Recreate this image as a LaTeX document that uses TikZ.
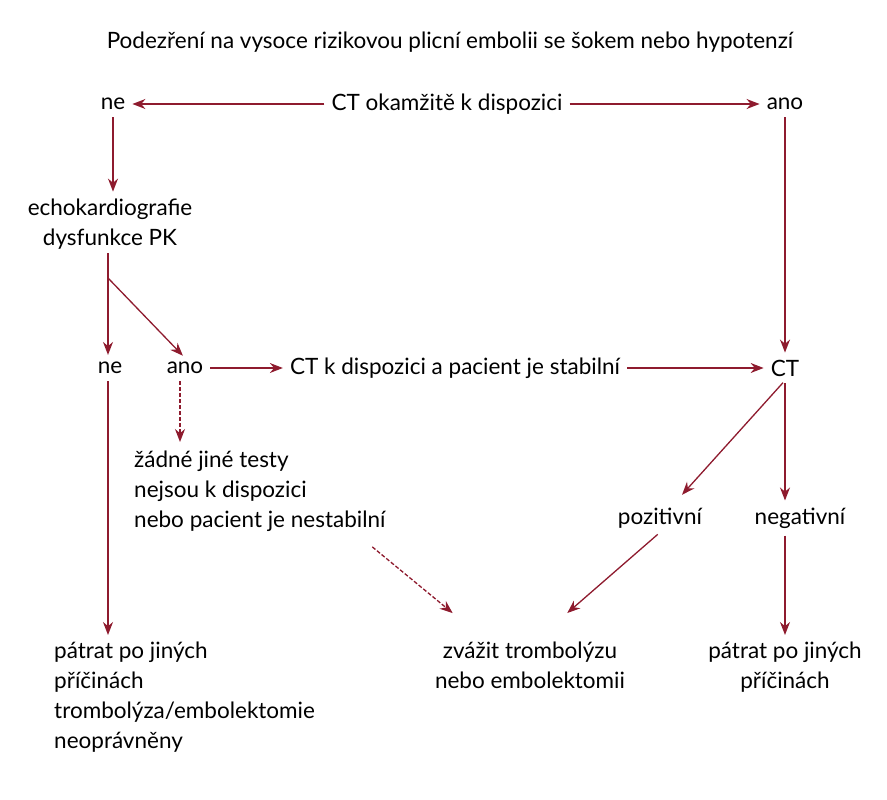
\documentclass[tikz,border=0pt]{standalone}
\usepackage{fontspec}
\setmainfont{Lato}
\usetikzlibrary{arrows.meta,positioning}
\definecolor{wine}{HTML}{8E1B2E}

\begin{document}
\begin{tikzpicture}[x=1pt,y=-1pt,
    lbl/.style={inner sep=4pt,font=\fontsize{22.5}{30}\selectfont},
    blk/.style={lbl,align=left},
    arr/.style={wine,line width=1.3pt,-{Stealth[length=13pt,width=10pt]},shorten >=3pt,shorten <=3pt},
    darr/.style={arr,dash pattern=on 4pt off 2pt}]
       \useasboundingbox (0,0) rectangle (887,800);
        %TITULEK
       \node[lbl] (title) at (450,42) {Podezření na vysoce rizikovou plicní embolii se šokem nebo hypotenzí};
        %PRVNI RADA
       \node[lbl] (ne1) at (113,104) {ne};
       \node[lbl] (ctnow) at (447,104) {CT okamžitě k dispozici};
       \node[lbl] (ano1) at (785,104) {ano};
       \draw[arr] (ctnow) -- (ne1);
       \draw[arr] (ctnow) -- (ano1);
        %ECHO
       \node[blk,align=center] (echo) at (110,224) {echokardiografie\\dysfunkce PK};
       \draw[arr] (ne1.south) -- (ne1.south |- echo.north);
       \coordinate (split) at (108,278);
        %DRUHA RADA
       \node[lbl] (ne2) at (110,368) {ne};
       \node[lbl] (ano2) at (185,368) {ano};
       \node[lbl] (ctstab) at (455,368) {CT k dispozici a pacient je stabilní};
       \node[lbl] (ct) at (785,368) {CT};
       \draw[wine,line width=1.3pt] (echo.south -| split) -- (split);
       \draw[arr,shorten <=0pt] (split) -- (split |- ne2.north);
       \draw[arr,shorten <=0pt] (split) -- (ano2.north);
       \draw[arr] (ano2) -- (ctstab);
       \draw[arr] (ctstab) -- (ct);
       \draw[arr] (ano1) -- (ct);
        %NESTABILNI
       \node[blk,anchor=north west] (notest) at (130,447) {žádné jiné testy\\nejsou k dispozici\\nebo pacient je nestabilní};
       \draw[darr] (ano2.south -| 180,0) -- (180,445);
        %VYSLEDEK CT
       \node[lbl] (pos) at (660,518) {pozitivní};
       \node[lbl] (neg) at (800,518) {negativní};
       \draw[arr] (ct.south) -- (680,497);
       \draw[arr] (ct.south) -- (neg.north -| ct.south);
        %SPODNI RADA
       \node[blk,anchor=north west] (other1) at (50,638) {pátrat po jiných\\příčinách\\trombolýza/embolektomie\\neoprávněny};
       \node[blk,align=center,anchor=north] (lysis) at (530,638) {zvážit trombolýzu\\nebo embolektomii};
       \node[blk,align=center,anchor=north] (other2) at (785,638) {pátrat po jiných\\příčinách};
       \draw[arr] (ne2.south -| split) -- (split |- other1.north);
       \draw[arr] (pos.south) -- (565,615);
       \draw[darr] (370,545) -- (455,615);
       \draw[arr] (neg.south -| ct.south) -- (other2.north);
\end{tikzpicture}
\end{document}
